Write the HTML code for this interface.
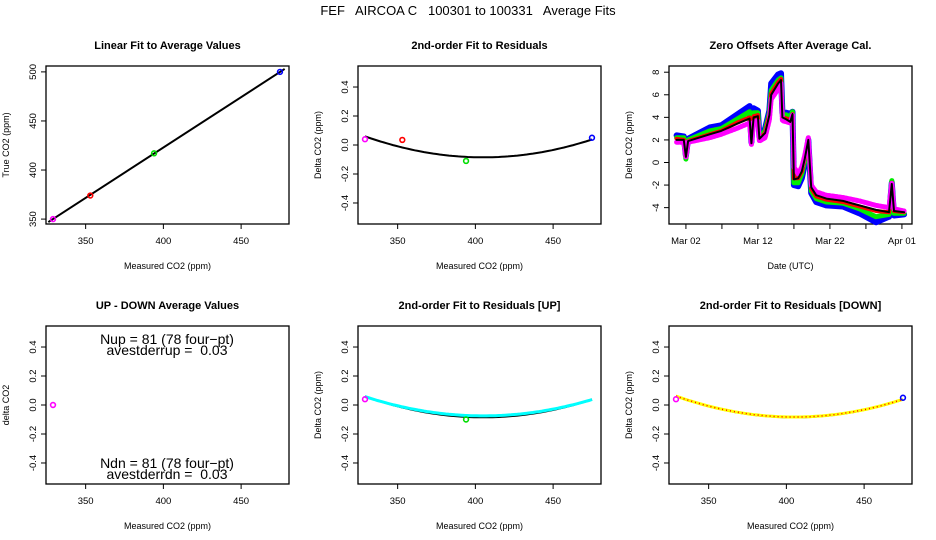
<!DOCTYPE html>
<html><head><meta charset="utf-8">
<style>
body{margin:0;background:#fff;}
svg{display:block;font-family:"Liberation Sans",sans-serif;}
</style></head>
<body>
<svg id="chart" width="936" height="540" viewBox="0 0 936 540">
<text x="468" y="15" text-anchor="middle" font-size="13" style="white-space:pre">FEF   AIRCOA C   100301 to 100331   Average Fits</text>
</svg>
<script>
// ---- Data ----
const linMeasured = [329, 353, 394, 475];
const linTrue = [350, 374, 417, 500];
const linColors = ['#ff00ff', '#ff0000', '#00dd00', '#0000ff'];
const linFit = [[326, 347], [478, 503]];
const resMeasured = [329, 353, 394, 475];
const resValues = [0.04, 0.035, -0.11, 0.05];
const resColors = ['#ff00ff', '#ff0000', '#00dd00', '#0000ff'];
const fitCoef = [2.51e-5, 405, -0.085];
const upFitCoef = [2.3e-5, 405, -0.075];
const dnFitCoef = [2.5e-5, 405, -0.083];
const udMeasured = [329];
const udValues = [0.0];
const upMeasured = [329, 394];
const upValues = [0.04, -0.1];
const upColors = ['#ff00ff', '#00dd00'];
const dnMeasured = [329, 475];
const dnValues = [0.04, 0.05];
const dnColors = ['#ff00ff', '#0000ff'];
const xTicks = [350, 400, 450];
const linYTicks = [350, 400, 450, 500];
const resYTicks = [-0.4, -0.2, 0.0, 0.2, 0.4];
const resYLabels = ['-0.4', '-0.2', '0.0', '0.2', '0.4'];
const zTimes = [0.7,1.7,2.0,2.3,5.3,6.9,9.0,10.85,11.1,11.4,12.0,12.2,13.0,13.6,13.85,14.8,15.2,15.4,16.0,16.5,16.8,17.0,17.6,18.1,18.5,19.0,19.4,20.1,21.5,23.8,26.1,28.4,30.2,30.6,30.9,32.3];
const zBlack = [2.0,2.0,0.5,1.9,2.5,2.8,3.4,3.9,1.7,4.0,4.1,2.1,2.6,4.2,6.0,7.0,7.3,4.0,3.8,3.6,4.3,-1.5,-1.4,-0.8,0.3,2.0,-2.2,-2.9,-3.2,-3.4,-3.8,-4.2,-4.4,-1.9,-4.3,-4.4];
const zBlue = [2.4,2.3,0.6,2.1,3.1,3.3,4.2,5.0,1.8,4.8,4.6,2.3,3.0,4.6,7.0,7.8,7.9,4.4,4.4,4.3,4.5,-2.0,-2.1,-1.4,-0.2,2.0,-2.7,-3.5,-3.8,-3.9,-4.5,-5.3,-4.8,-1.8,-4.7,-4.6];
const zGreen = [2.2,2.2,0.3,2.0,2.8,3.0,3.8,4.5,1.9,4.4,4.4,2.2,2.8,4.4,6.4,7.3,7.5,4.3,4.2,4.0,4.5,-1.8,-1.8,-1.0,0.1,2.0,-2.5,-3.2,-3.5,-3.6,-4.1,-4.8,-4.6,-1.6,-4.5,-4.5];
const zRed = [2.1,2.0,0.6,1.9,2.5,2.8,3.5,4.0,1.8,4.1,4.2,2.1,2.6,4.3,6.1,7.1,7.4,4.0,3.9,3.7,4.3,-1.4,-1.4,-0.8,0.3,2.0,-2.3,-3.0,-3.3,-3.5,-3.9,-4.3,-4.4,-1.8,-4.3,-4.4];
const zMagenta = [1.8,1.8,0.5,1.8,2.2,2.5,3.0,3.5,1.6,3.6,3.7,1.9,2.2,3.8,5.6,6.5,7.0,3.7,3.6,3.5,4.2,-0.4,-1.0,-0.4,0.6,2.2,-2.0,-2.6,-2.9,-3.1,-3.4,-3.8,-4.0,-1.8,-4.1,-4.3];
const zXTicks = [2, 7, 12, 17, 22, 27, 32];
const zXLabels = ['Mar 02', '', 'Mar 12', '', 'Mar 22', '', 'Apr 01'];
const zYTicks = [-4, -2, 0, 2, 4, 6, 8];

const NS = 'http://www.w3.org/2000/svg';
const svg = document.getElementById('chart');
function mk(tag, attrs, parent, txt) {
  const e = document.createElementNS(NS, tag);
  for (const k in attrs) e.setAttribute(k, attrs[k]);
  if (txt !== undefined) e.textContent = txt;
  (parent || svg).appendChild(e);
  return e;
}
const colL = [46, 358, 669], rowT = [66, 326], W = 243, H = 158;

function panel(col, row, name, title, xl, yl, xlim, ylim) {
  const g = mk('g', {});
  
  
  const L = colL[col], T = rowT[row];
  const sx = v => L + (v - xlim[0]) / (xlim[1] - xlim[0]) * W;
  const sy = v => T + H - (v - ylim[0]) / (ylim[1] - ylim[0]) * H;
  const t = mk('text', {x: L + W / 2, y: T - 17, 'text-anchor': 'middle', 'font-size': 11, 'font-weight': 'bold'}, g, title);
  
  
  const r = mk('rect', {x: L, y: T, width: W, height: H, fill: 'none', stroke: '#000', 'stroke-width': 1.3}, g);
  
  
  const a = mk('text', {x: L + W / 2, y: T + H + 45, 'text-anchor': 'middle', 'font-size': 9}, g, xl);
  
  
  const cx = L - 37, cy = T + H / 2;
  const b = mk('text', {x: cx, y: cy, 'text-anchor': 'middle', 'font-size': 9, transform: `rotate(-90 ${cx} ${cy})`}, g, yl);
  
  
  return {g, sx, sy, L, T};
}
function xAxis(p, ticks, labels) {
  ticks.forEach((v, i) => {
    const x = p.sx(v);
    mk('line', {x1: x, x2: x, y1: p.T + H, y2: p.T + H + 5, stroke: '#000'}, p.g);
    const lab = labels ? labels[i] : String(v);
    if (lab) {
      const t = mk('text', {x: x, y: p.T + H + 20, 'text-anchor': 'middle', 'font-size': 9.5}, p.g, lab);
      
      
    }
  });
}
function yAxis(p, ticks, labels) {
  ticks.forEach((v, i) => {
    const y = p.sy(v);
    mk('line', {x1: p.L - 5, x2: p.L, y1: y, y2: y, stroke: '#000'}, p.g);
    const lx = p.L - 10;
    const t = mk('text', {x: lx, y: y, 'text-anchor': 'middle', 'font-size': 9.5, transform: `rotate(-90 ${lx} ${y})`}, p.g, labels ? labels[i] : String(v));
    
    
  });
}
function pts(p, xs, ys, cols) {
  xs.forEach((v, i) => {
    const c = mk('circle', {cx: p.sx(v), cy: p.sy(ys[i]), r: 2.4, fill: 'none', stroke: cols[i], 'stroke-width': 1.6}, p.g);
    
    
  });
}
function curve(p, coef, stroke, w, dash) {
  let d = '';
  for (let x = 329; x <= 475; x += 2) {
    const y = coef[0] * (x - coef[1]) * (x - coef[1]) + coef[2];
    d += (d ? 'L' : 'M') + p.sx(x).toFixed(1) + ',' + p.sy(y).toFixed(1);
  }
  const e = mk('path', {d: d, fill: 'none', stroke: stroke, 'stroke-width': w}, p.g);
  if (dash) e.setAttribute('stroke-dasharray', dash);
  
  
}
const XL = [324.5, 480.8], RL = [-0.545, 0.545];

// Panel 1
const p1 = panel(0, 0, 'linear-fit-panel', 'Linear Fit to Average Values', 'Measured CO2 (ppm)', 'True CO2 (ppm)', XL, [345, 506]);
xAxis(p1, xTicks); yAxis(p1, linYTicks);
const fl = mk('line', {x1: p1.sx(linFit[0][0]), y1: p1.sy(linFit[0][1]), x2: p1.sx(linFit[1][0]), y2: p1.sy(linFit[1][1]), stroke: '#000', 'stroke-width': 2}, p1.g);


pts(p1, linMeasured, linTrue, linColors);

// Panel 2
const p2 = panel(1, 0, 'residual-fit-panel', '2nd-order Fit to Residuals', 'Measured CO2 (ppm)', 'Delta CO2 (ppm)', XL, RL);
xAxis(p2, xTicks); yAxis(p2, resYTicks, resYLabels);
curve(p2, fitCoef, '#000', 2);
pts(p2, resMeasured, resValues, resColors);

// Panel 3
const p3 = panel(2, 0, 'zero-offsets-panel', 'Zero Offsets After Average Cal.', 'Date (UTC)', 'Delta CO2 (ppm)', [-0.35, 33.4], [-5.45, 8.55]);
xAxis(p3, zXTicks, zXLabels); yAxis(p3, zYTicks);
function series(vals, color, w, name, dash) {
  const d = zTimes.map((t, i) => (i ? 'L' : 'M') + p3.sx(t).toFixed(1) + ',' + p3.sy(vals[i]).toFixed(1)).join('');
  const e = mk('path', {d: d, fill: 'none', stroke: color, 'stroke-width': w, 'stroke-linejoin': 'round', 'stroke-linecap': 'round'}, p3.g);
  if (dash) e.setAttribute('stroke-dasharray', dash);
  
  
}
series(zBlue, '#0000ff', 6, 'series-blue');
series(zGreen, '#00ee00', 5, 'series-green');
series(zRed, '#ff0000', 4, 'series-red');
series(zMagenta, '#ff00ff', 5, 'series-magenta', '2 1.5');
series(zBlack, '#000', 2, 'series-black');

// Panel 4
const p4 = panel(0, 1, 'up-down-panel', 'UP - DOWN Average Values', 'Measured CO2 (ppm)', 'delta CO2', XL, RL);
xAxis(p4, xTicks); yAxis(p4, resYTicks, resYLabels);
pts(p4, udMeasured, udValues, ['#ff00ff']);
[['Nup = 81 (78 four\u2212pt)', 344], ['avestderrup =  0.03', 355], ['Ndn = 81 (78 four\u2212pt)', 468], ['avestderrdn =  0.03', 479]].forEach(s => {
  const t = mk('text', {x: 167, y: s[1], 'text-anchor': 'middle', 'font-size': 14, style: 'white-space:pre'}, p4.g, s[0]);
  
  
});

// Panel 5
const p5 = panel(1, 1, 'residual-up-panel', '2nd-order Fit to Residuals [UP]', 'Measured CO2 (ppm)', 'Delta CO2 (ppm)', XL, RL);
xAxis(p5, xTicks); yAxis(p5, resYTicks, resYLabels);
curve(p5, fitCoef, '#000', 2);
curve(p5, upFitCoef, '#00ffff', 3);
pts(p5, upMeasured, upValues, upColors);

// Panel 6
const p6 = panel(2, 1, 'residual-down-panel', '2nd-order Fit to Residuals [DOWN]', 'Measured CO2 (ppm)', 'Delta CO2 (ppm)', XL, RL);
xAxis(p6, xTicks); yAxis(p6, resYTicks, resYLabels);
curve(p6, fitCoef, '#000', 2);
curve(p6, dnFitCoef, '#ffff00', 3);
curve(p6, dnFitCoef, '#ff0000', 1.5, '1 3');
pts(p6, dnMeasured, dnValues, dnColors);
</script>
</body></html>
